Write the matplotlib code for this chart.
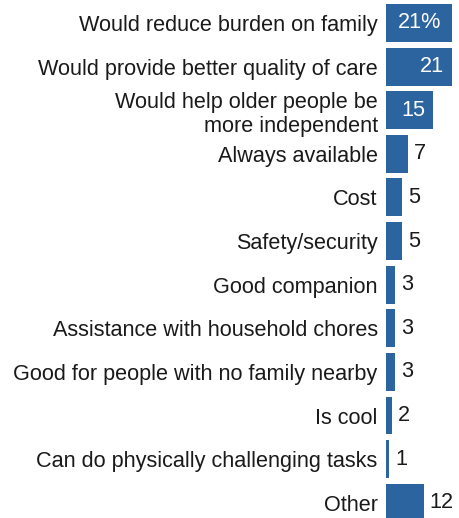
import matplotlib
matplotlib.use("Agg")
import matplotlib.pyplot as plt
from matplotlib import transforms

categories = [
    "Would reduce burden on family",
    "Would provide better quality of care",
    "Would help older people be\nmore independent",
    "Always available",
    "Cost",
    "Safety/security",
    "Good companion",
    "Assistance with household chores",
    "Good for people with no family nearby",
    "Is cool",
    "Can do physically challenging tasks",
    "Other",
]
values = [21, 21, 15, 7, 5, 5, 3, 3, 3, 2, 1, 12]
value_labels = ["21%", "21", "15", "7", "5", "5", "3", "3", "3", "2", "1", "12"]

BAR_COLOR = "#2b649e"
TEXT_COLOR = "#1a1a1a"
FONT = "Liberation Sans"
FS = 15.6

W, H = 459, 518
fig = plt.figure(figsize=(W / 100, H / 100), dpi=100)
ax_left = 386 / W
ax = fig.add_axes([ax_left, 0, 1 - ax_left, 1])

n = len(categories)
pos = list(range(n))
ax.barh(pos, values, height=0.87, color=BAR_COLOR, linewidth=0)
ax.set_xlim(0, (W - 386) / 3.143)
ax.set_ylim(11.35, -0.527)

ax.set_yticks(pos)
ax.set_yticklabels(categories, fontsize=FS, family=FONT, color=TEXT_COLOR,
                   multialignment="right", linespacing=1.22)
ax.tick_params(axis="y", length=0, pad=6)
ax.set_xticks([])
for s in ax.spines.values():
    s.set_visible(False)

for i, (v, lab) in enumerate(zip(values, value_labels)):
    if v >= 15:
        off = -11 if lab.endswith("%") else -8
        tr = ax.transData + transforms.ScaledTranslation(off / 100, 0, fig.dpi_scale_trans)
        ax.text(v, i, lab, transform=tr, ha="right", va="center",
                fontsize=FS, family=FONT, color="white")
    else:
        tr = ax.transData + transforms.ScaledTranslation(6 / 100, 0, fig.dpi_scale_trans)
        ax.text(v, i, lab, transform=tr, ha="left", va="center",
                fontsize=FS, family=FONT, color=TEXT_COLOR)

fig.savefig("out.png", dpi=100)
